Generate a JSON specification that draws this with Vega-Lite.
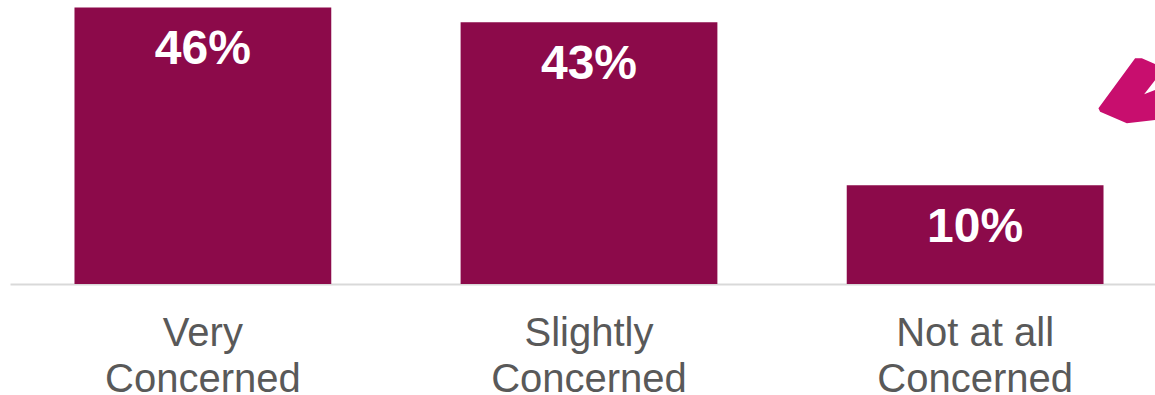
{
  "$schema": "https://vega.github.io/schema/vega-lite/v6.json",
  "autosize": "none",
  "padding": {"left": 10, "top": 0, "right": 0, "bottom": 111},
  "width": 1158,
  "height": 284,
  "background": "white",
  "config": {"view": {"stroke": null}},
  "data": {"values": [
    {"category": "Very Concerned", "value": 46, "label": "46%"},
    {"category": "Slightly Concerned", "value": 43, "label": "43%"},
    {"category": "Not at all Concerned", "value": 10, "label": "10%"}
  ]},
  "encoding": {
    "x": {"field": "category", "type": "nominal", "sort": null,
      "scale": {"paddingInner": 0.335, "paddingOuter": 0.167},
      "axis": {"title": null, "ticks": false, "domainColor": "#D9D9D9", "domainWidth": 2,
        "labelAngle": 0, "labelFont": "Liberation Sans", "labelFontSize": 40, "labelColor": "#595959",
        "labelPadding": 29, "labelLineHeight": 46, "labelLimit": 0,
        "labelExpr": "split(replace(datum.label, ' Concerned', '|Concerned'), '|')"}},
    "y": {"field": "value", "type": "quantitative", "scale": {"domain": [-10, 47.5], "nice": false, "zero": false}, "axis": null}
  },
  "layer": [
    {"mark": {"type": "bar", "color": "#8C0A4A"}, "encoding": {"y2": {"datum": -10}}},
    {"mark": {"type": "text", "font": "Liberation Sans", "fontWeight": "bold", "fontSize": 48, "color": "white", "baseline": "alphabetic", "dy": 57},
     "encoding": {"text": {"field": "label"}}},
    {"data": {"values": [{"category": "Not at all Concerned", "pos": 30}]},
     "mark": {"type": "point", "filled": true, "opacity": 1, "color": "#C80E6E", "size": 4,
       "shape": "M160,-28.1 L166.7,-28.1 L185,-20.4 L185,-4.4 L180,-6.4 L169,7.9 L180,3.6 L185,5.6 L185,33.6 L180,33.6 L151.7,36.9 L125,25.3 L123.3,21.9 Z"},
     "encoding": {"x": {"field": "category", "type": "nominal"}, "y": {"field": "pos", "type": "quantitative"}}}
  ]
}
